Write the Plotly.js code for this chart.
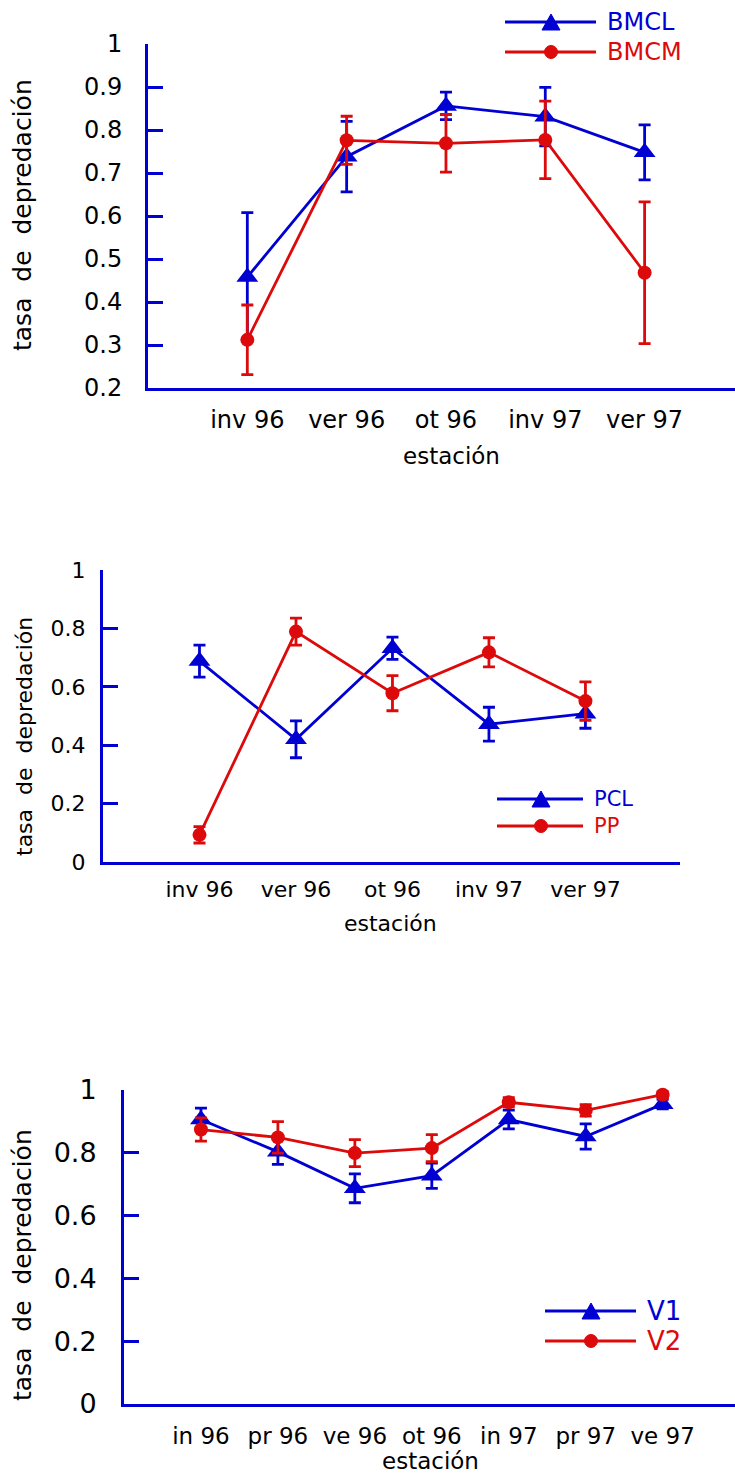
<!DOCTYPE html>
<html><head><meta charset="utf-8">
<script src="https://cdn.plot.ly/plotly-3.0.1.min.js"></script>
<style>body{margin:0;background:#fff}</style>
</head><body><div id="chart" style="width:735px;height:1475px"></div>
<script>
// ---- data ----
const seasons1 = ['inv 96','ver 96','ot 96','inv 97','ver 97'];
const bmcl    = [0.458, 0.738, 0.856, 0.831, 0.748];
const bmclErr = [0.150, 0.082, 0.032, 0.068, 0.064];
const bmcm    = [0.312, 0.776, 0.769, 0.777, 0.468];
const bmcmErr = [0.081, 0.056, 0.067, 0.090, 0.165];

const seasons2 = ['inv 96','ver 96','ot 96','inv 97','ver 97'];
const pcl    = [0.688, 0.420, 0.732, 0.472, 0.508];
const pclErr = [0.055, 0.063, 0.038, 0.058, 0.050];
const pp     = [0.093, 0.789, 0.578, 0.718, 0.551];
const ppErr  = [0.028, 0.046, 0.060, 0.050, 0.066];

const seasons3 = ['in 96','pr 96','ve 96','ot 96','in 97','pr 97','ve 97'];
const v1    = [0.906, 0.803, 0.687, 0.727, 0.906, 0.852, 0.955];
const v1Err = [0.036, 0.040, 0.046, 0.040, 0.030, 0.040, 0.015];
const v2    = [0.874, 0.849, 0.799, 0.815, 0.961, 0.935, 0.985];
const v2Err = [0.037, 0.050, 0.043, 0.043, 0.015, 0.018, 0.010];

// ---- style ----
const W = 735, H = 1475;
const BLUE = '#0000d2', RED = '#dc0a0a';
const FONT = 'DejaVu Sans, Verdana, sans-serif';
const px = x => x / W, py = y => 1 - y / H;

function series(x, y, err, color, sym, size, xa, ya) {
  return {
    x: x, y: y, type: 'scatter', mode: 'lines+markers', xaxis: xa, yaxis: ya,
    line: {color: color, width: 2.8},
    marker: {color: color, symbol: sym, size: size},
    error_y: {type: 'data', array: err, visible: true, color: color, thickness: 2.8, width: 6},
    cliponaxis: false, showlegend: false, hoverinfo: 'skip'
  };
}

const data = [
  series(seasons1, bmcl, bmclErr, BLUE, 'triangle-up', 19, 'x', 'y'),
  series(seasons1, bmcm, bmcmErr, RED, 'circle', 14, 'x', 'y'),
  series(seasons2, pcl, pclErr, BLUE, 'triangle-up', 19, 'x2', 'y2'),
  series(seasons2, pp, ppErr, RED, 'circle', 14, 'x2', 'y2'),
  series(seasons3, v1, v1Err, BLUE, 'triangle-up', 19, 'x3', 'y3'),
  series(seasons3, v2, v2Err, RED, 'circle', 14, 'x3', 'y3')
];

function xax(dom, range, anchor, fs, standoff) {
  return {domain: dom, range: range, anchor: anchor, type: 'category',
    showline: true, linecolor: BLUE, linewidth: 3, ticks: '', showgrid: false, zeroline: false,
    tickfont: {family: FONT, size: fs, color: '#000'}, ticklabelstandoff: standoff, fixedrange: true};
}
function yax(dom, range, dtick, anchor, fs, standoff) {
  return {domain: dom, range: range, dtick: dtick, tick0: 0, anchor: anchor,
    showline: true, linecolor: BLUE, linewidth: 3, ticks: 'inside', ticklen: 15, tickwidth: 3, tickcolor: BLUE,
    showgrid: false, zeroline: false,
    tickfont: {family: FONT, size: fs, color: '#000'}, ticklabelstandoff: standoff, fixedrange: true};
}

// legend helpers (positions in pixels)
const shapes = [], annotations = [];
function legendItem(x0, x1, xm, y, color, sym, label, fs) {
  shapes.push({type: 'line', xref: 'paper', yref: 'paper', x0: px(x0), x1: px(x1), y0: py(y), y1: py(y),
    line: {color: color, width: 3}});
  if (sym === 'tri') {
    shapes.push({type: 'path', xref: 'paper', yref: 'paper',
      path: `M ${px(xm-9)},${py(y+8)} L ${px(xm+9)},${py(y+8)} L ${px(xm)},${py(y-8)} Z`,
      fillcolor: color, line: {color: color, width: 1}});
  } else {
    shapes.push({type: 'circle', xref: 'paper', yref: 'paper',
      x0: px(xm-6.5), x1: px(xm+6.5), y0: py(y+6.5), y1: py(y-6.5),
      fillcolor: color, line: {color: color, width: 1}});
  }
  annotations.push({xref: 'paper', yref: 'paper', x: px(x1 + 9), y: py(y), xanchor: 'left', yanchor: 'middle',
    text: label, showarrow: false, font: {family: FONT, size: fs, color: color}});
}
legendItem(505, 596, 551, 22, BLUE, 'tri', 'BMCL', 24);
legendItem(505, 596, 551, 52, RED, 'circ', 'BMCM', 24);
legendItem(497, 583, 541, 799, BLUE, 'tri', 'PCL', 21);
legendItem(497, 583, 541, 826, RED, 'circ', 'PP', 21);
legendItem(545, 636, 591, 1311, BLUE, 'tri', 'V1', 26);
legendItem(545, 636, 591, 1341, RED, 'circ', 'V2', 26);

function ytitle(x, y, fs) {
  annotations.push({xref: 'paper', yref: 'paper', x: px(x), y: py(y), xanchor: 'center', yanchor: 'middle',
    textangle: -90, text: 'tasa\u00a0 de\u00a0 depredación', showarrow: false,
    font: {family: FONT, size: fs, color: '#000'}});
}
function xtitle(x, y, fs) {
  annotations.push({xref: 'paper', yref: 'paper', x: px(x), y: py(y), xanchor: 'center', yanchor: 'middle',
    text: 'estación', showarrow: false, font: {family: FONT, size: fs, color: '#000'}});
}
ytitle(22, 215, 25); xtitle(451, 456, 23);
ytitle(24, 737, 22); xtitle(390, 923, 22);
ytitle(22, 1265, 25); xtitle(430, 1461, 23);

const layout = {
  width: W, height: H, margin: {l: 0, r: 0, t: 0, b: 0},
  paper_bgcolor: '#fff', plot_bgcolor: '#fff', showlegend: false,
  xaxis: xax([px(148), 1], [-1, 4.91], 'y', 24, 8),
  yaxis: yax([py(388), py(44)], [0.2, 1], 0.1, 'x', 24, 18),
  xaxis2: xax([px(103), px(680)], [-1, 4.98], 'y2', 22, 6),
  yaxis2: yax([py(862), py(570)], [0, 1], 0.2, 'x2', 22, 10),
  xaxis3: xax([px(124), 1], [-1, 6.94], 'y3', 23, 9),
  yaxis3: yax([py(1404), py(1090)], [0, 1], 0.2, 'x3', 27, 19),
  shapes: shapes, annotations: annotations
};

Plotly.newPlot('chart', data, layout, {displayModeBar: false, staticPlot: true});
</script></body></html>
